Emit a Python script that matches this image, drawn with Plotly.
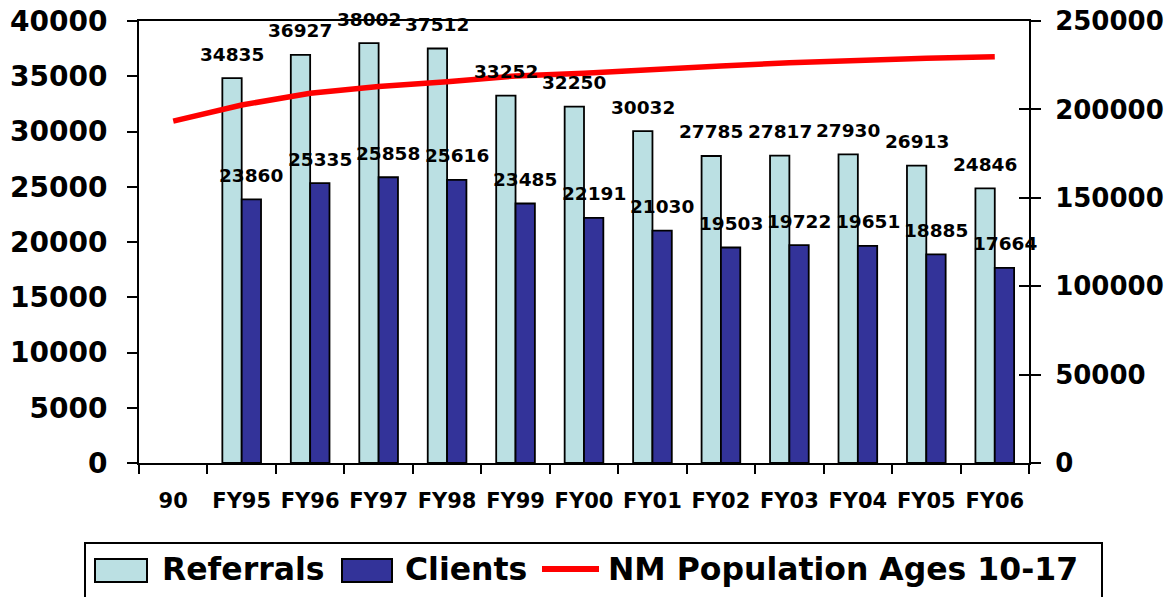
import plotly.graph_objects as go

categories = ["90", "FY95", "FY96", "FY97", "FY98", "FY99", "FY00", "FY01",
              "FY02", "FY03", "FY04", "FY05", "FY06"]
referrals = [None, 34835, 36927, 38002, 37512, 33252, 32250, 30032,
             27785, 27817, 27930, 26913, 24846]
clients = [None, 23860, 25335, 25858, 25616, 23485, 22191, 21030,
           19503, 19722, 19651, 18885, 17664]
population = [193400, 202500, 209100, 212900, 215700, 218900, 220400,
              222700, 224500, 226400, 227900, 228900, 229800]

left_ticks = list(range(0, 40001, 5000))
right_ticks = list(range(0, 250001, 50000))

FONT = "DejaVu Sans"
REF_COLOR = "#BBE0E3"
CLI_COLOR = "#333399"
LINE_COLOR = "#FF0000"

fig = go.Figure()
fig.add_trace(go.Bar(x=categories, y=referrals, name="Referrals",
                     marker=dict(color=REF_COLOR, line=dict(color="black", width=1.8))))
fig.add_trace(go.Bar(x=categories, y=clients, name="Clients",
                     marker=dict(color=CLI_COLOR, line=dict(color="black", width=1.8))))
fig.add_trace(go.Scatter(x=categories, y=population, name="NM Population Ages 10-17",
                         mode="lines", yaxis="y2",
                         line=dict(color=LINE_COLOR, width=5.5)))
fig.add_trace(go.Scatter(x=[categories[0]], y=[None], yaxis="y3", showlegend=False,
                         hoverinfo="skip", mode="markers"))

annotations = []
label_font = dict(family=FONT, size=18.5, color="black", weight="bold")
for cat, r, c in zip(categories, referrals, clients):
    if r is not None:
        annotations.append(dict(x=cat, y=r, xref="x", yref="y", text=str(r),
                                showarrow=False, xshift=-9.75, yshift=24,
                                yanchor="middle", font=label_font))
    if c is not None:
        annotations.append(dict(x=cat, y=c, xref="x", yref="y", text=str(c),
                                showarrow=False, xshift=9.75, yshift=24,
                                yanchor="middle", font=label_font))

# page body has an 8px margin; figure drawn at (8, 8).
# plot area in page pixels: x 139..1029, y 21..463
def px_x(p):
    return (p - 139) / 890.0

def px_y(p):
    return (463 - p) / 442.0

shapes = [
    dict(type="rect", xref="paper", yref="paper", x0=px_x(85), x1=px_x(1102),
         y0=px_y(630), y1=px_y(543), line=dict(color="black", width=2),
         fillcolor="rgba(0,0,0,0)"),
    dict(type="rect", xref="paper", yref="paper", x0=px_x(95), x1=px_x(147),
         y0=px_y(582), y1=px_y(559), line=dict(color="black", width=2),
         fillcolor=REF_COLOR),
    dict(type="rect", xref="paper", yref="paper", x0=px_x(342), x1=px_x(392),
         y0=px_y(582), y1=px_y(559), line=dict(color="black", width=2),
         fillcolor=CLI_COLOR),
    dict(type="line", xref="paper", yref="paper", x0=px_x(542), x1=px_x(599),
         y0=px_y(569), y1=px_y(569), line=dict(color=LINE_COLOR, width=6)),
]
legend_font = dict(family=FONT, size=31.5, color="black", weight="bold")
for txt, xp in [("Referrals", 160), ("Clients", 403), ("NM Population Ages 10-17", 606)]:
    annotations.append(dict(x=px_x(xp), y=px_y(569), xref="paper", yref="paper",
                            text=txt, showarrow=False, xanchor="left",
                            yanchor="middle", font=legend_font))

fig.update_layout(
    width=1166, height=589,
    margin=dict(l=131, r=145, t=13, b=134),
    paper_bgcolor="white", plot_bgcolor="white",
    barmode="group", bargap=0.435, bargroupgap=0,
    showlegend=False,
    xaxis=dict(type="category", categoryorder="array", categoryarray=categories,
               showline=True, linecolor="black", linewidth=2, mirror=True,
               ticks="outside", ticklen=9, tickwidth=2, tickcolor="black",
               tickson="boundaries", showgrid=False, automargin=False,
               tickangle=0, ticklabeloverflow="allow",
               tickfont=dict(family=FONT, size=21, color="black", weight="bold"),
               ticklabelstandoff=18, range=[-0.5, 12.5]),
    yaxis=dict(range=[0, 40000], tickvals=left_ticks, ticktext=[str(v) for v in left_ticks],
               showline=True, linecolor="black", linewidth=2,
               ticks="outside", ticklen=10, tickwidth=2, tickcolor="black",
               showgrid=False, zeroline=False, automargin=False,
               ticklabeloverflow="allow",
               tickfont=dict(family=FONT, size=28, color="black", weight="bold"),
               ticklabelstandoff=14),
    yaxis2=dict(range=[0, 250000], tickvals=right_ticks, ticktext=[str(v) for v in right_ticks],
                overlaying="y", side="right", anchor="x",
                showline=True, linecolor="black", linewidth=2,
                ticks="outside", ticklen=10, tickwidth=2, tickcolor="black",
                showgrid=False, zeroline=False, automargin=False,
                ticklabeloverflow="allow",
                tickfont=dict(family=FONT, size=26, color="black", weight="bold"),
                ticklabelstandoff=9),
    yaxis3=dict(range=[0, 250000], tickvals=right_ticks,
                overlaying="y", side="right", anchor="x",
                showline=False, showticklabels=False, automargin=False,
                ticks="inside", ticklen=10, tickwidth=2, tickcolor="black",
                showgrid=False, zeroline=False),
    annotations=annotations,
    shapes=shapes,
)

fig.write_html("out.html")
